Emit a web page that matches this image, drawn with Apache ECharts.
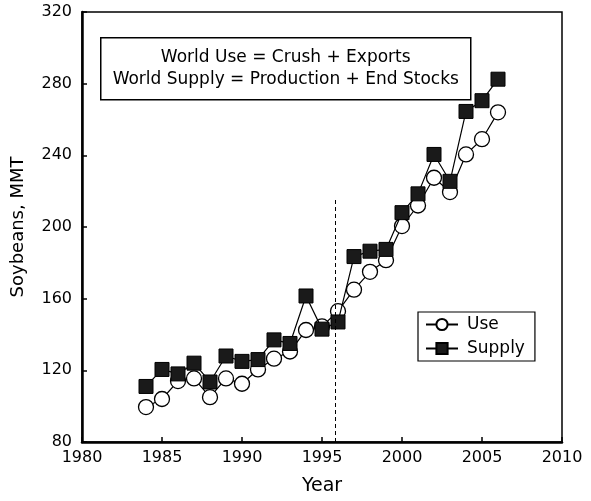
<!DOCTYPE html>
<html>
<head>
<meta charset="utf-8">
<script src="https://cdn.jsdelivr.net/npm/echarts@6/dist/echarts.min.js"></script>
<style>
html,body{margin:0;padding:0;background:#fff;}
#chart{width:591px;height:501px;}
</style>
</head>
<body>
<div id="chart"></div>
<script>
const years = [1984,1985,1986,1987,1988,1989,1990,1991,1992,1993,1994,1995,1996,1997,1998,1999,2000,2001,2002,2003,2004,2005,2006];
const useVals = [99.5,104,114,115.5,105,115.5,112.5,120.5,126.5,130.5,142.5,144.5,153,165,175,181.5,200.5,212,227.5,219.5,240.5,249,264];
const supplyVals = [111,120.5,118,124,113.5,128,125,126,137,135,161.5,143,147,183.5,186.5,187.5,208,218.5,240.5,225.5,264.5,270.5,282.5];
const yTicks = [80,120,160,200,240,280,320];
const xTicks = [1980,1985,1990,1995,2000,2005,2010];
const dividerYear = 1995.8;
const dividerTop = 216;
const noteLines = ['World Use = Crush + Exports', 'World Supply = Production + End Stocks'];

const FONT = 'DejaVu Sans';
const chart = echarts.init(document.getElementById('chart'), null, {renderer:'canvas'});
const pair = (vals) => years.map((y,i)=>[y, vals[i]]);

chart.setOption({
  animation:false,
  backgroundColor:'#fff',
  grid:{left:82, top:12, width:480, height:430, show:true, borderColor:'#000', borderWidth:1.5, backgroundColor:'transparent'},
  xAxis:{
    type:'value', min:xTicks[0], max:xTicks[xTicks.length-1], interval:5,
    name:'Year', nameLocation:'middle', nameGap:35,
    nameTextStyle:{fontFamily:FONT, fontSize:19, color:'#000'},
    axisLine:{show:true, lineStyle:{color:'#000', width:2.5}},
    axisTick:{show:true, inside:true, length:5, lineStyle:{color:'#000', width:1.5}},
    axisLabel:{fontFamily:FONT, fontSize:16, color:'#000', margin:8, formatter:(v)=>String(v)},
    splitLine:{show:false}
  },
  yAxis:{
    type:'value', min:yTicks[0], max:yTicks[yTicks.length-1], interval:40,
    name:'Soybeans, MMT', nameLocation:'middle', nameGap:55,
    nameTextStyle:{fontFamily:FONT, fontSize:18, color:'#000'},
    axisLine:{show:true, lineStyle:{color:'#000', width:2.5}},
    axisTick:{show:true, inside:true, length:5, lineStyle:{color:'#000', width:1.5}},
    axisLabel:{fontFamily:FONT, fontSize:16, color:'#000', margin:10},
    splitLine:{show:false}
  },
  legend:{
    orient:'vertical', left:418, top:312, width:100,
    backgroundColor:'#fff', borderColor:'#000', borderWidth:1.2,
    padding:[4,10,4,7], itemGap:7, itemWidth:32, itemHeight:14,
    textStyle:{fontFamily:FONT, fontSize:17, color:'#000', padding:[0,0,0,4]},
    data:['Use','Supply']
  },
  graphic:[{
    type:'group', left:100, top:37,
    children:[
      {type:'rect', shape:{x:0,y:0,width:370,height:62}, style:{fill:'#fff', stroke:'#000', lineWidth:1.5}},
      {type:'text', style:{x:185, y:20, text:noteLines[0], fontFamily:FONT, fontSize:17, fill:'#000', align:'center', verticalAlign:'middle'}},
      {type:'text', style:{x:185, y:42, text:noteLines[1], fontFamily:FONT, fontSize:17, fill:'#000', align:'center', verticalAlign:'middle'}}
    ]
  }],
  series:[
    {
      name:'Use', type:'line', data:pair(useVals), z:2,
      symbol:'circle', symbolSize:15,
      lineStyle:{color:'#000', width:1.2},
      itemStyle:{color:'#fff', borderColor:'#000', borderWidth:1.3},
      markLine:{
        silent:true, symbol:'none', label:{show:false},
        lineStyle:{color:'#000', type:[4,3], width:1},
        data:[[{coord:[dividerYear, yTicks[0]]},{coord:[dividerYear, dividerTop]}]]
      }
    },
    {
      name:'Supply', type:'line', data:pair(supplyVals), z:3,
      symbol:'rect', symbolSize:14,
      lineStyle:{color:'#000', width:1.2},
      itemStyle:{color:'#1a1a1a', borderColor:'#000', borderWidth:1}
    }
  ]
});
</script>
</body>
</html>
